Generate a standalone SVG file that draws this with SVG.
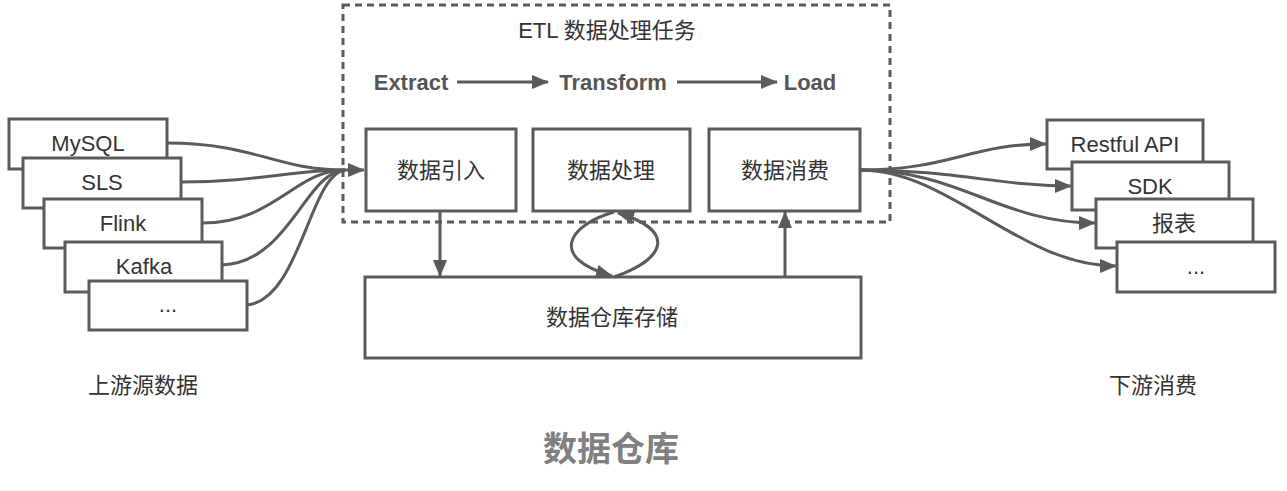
<svg xmlns="http://www.w3.org/2000/svg" width="1287" height="491" viewBox="0 0 1287 491">
<style>
.box{fill:#fff;stroke:#5b5b5b;stroke-width:3}
.t{font-family:"Liberation Sans","Noto Sans CJK SC",sans-serif;font-size:22px;fill:#333;text-anchor:middle;dominant-baseline:central}
.b{font-family:"Liberation Sans","Noto Sans CJK SC",sans-serif;font-size:22px;font-weight:bold;fill:#555;text-anchor:middle;dominant-baseline:central}
.c{fill:none;stroke:#5b5b5b;stroke-width:3}
.dash{fill:none;stroke:#5b5b5b;stroke-width:3;stroke-dasharray:7 5}
</style>
<defs>
<marker id="ah" markerUnits="userSpaceOnUse" markerWidth="17" markerHeight="14" refX="16" refY="7" orient="auto">
<path d="M0,0 L17,7 L0,14 z" fill="#5b5b5b"/>
</marker>
</defs>
<rect width="1287" height="491" fill="#fff"/>

<g id="etl-group">
<rect class="dash" x="343" y="5" width="547" height="217"/>
<text class="t" x="607" y="30">ETL 数据处理任务</text>
<text class="b" x="411" y="82">Extract</text>
<text class="b" x="613" y="82">Transform</text>
<text class="b" x="810" y="82">Load</text>
</g>

<g id="sources">
<g id="src-mysql"><rect class="box" x="9" y="119" width="158" height="50"/><text class="t" x="88" y="143">MySQL</text></g>
<g id="src-sls"><rect class="box" x="23" y="158" width="158" height="50"/><text class="t" x="102" y="182">SLS</text></g>
<g id="src-flink"><rect class="box" x="44" y="199" width="158" height="49"/><text class="t" x="123" y="223">Flink</text></g>
<g id="src-kafka"><rect class="box" x="65" y="242" width="157" height="50"/><text class="t" x="144" y="266">Kafka</text></g>
<g id="src-more"><rect class="box" x="89" y="281" width="158" height="49"/><text class="t" x="168" y="304">...</text></g>
</g>

<g id="n-ingest"><rect class="box" x="366" y="129" width="150" height="82"/><text class="t" x="441" y="170">数据引入</text></g>
<g id="n-process"><rect class="box" x="533" y="129" width="157" height="82"/><text class="t" x="611" y="170">数据处理</text></g>
<g id="n-consume"><rect class="box" x="709" y="129" width="151" height="82"/><text class="t" x="785" y="170">数据消费</text></g>
<g id="n-storage"><rect class="box" x="365" y="277" width="496" height="81"/><text class="t" x="612" y="317">数据仓库存储</text></g>

<g id="sinks">
<g id="dst-api"><rect class="box" x="1047" y="120" width="156" height="49"/><text class="t" x="1125" y="144">Restful API</text></g>
<g id="dst-sdk"><rect class="box" x="1072" y="162" width="157" height="48"/><text class="t" x="1150" y="186">SDK</text></g>
<g id="dst-report"><rect class="box" x="1096" y="199" width="157" height="49"/><text class="t" x="1174" y="223">报表</text></g>
<g id="dst-more"><rect class="box" x="1117" y="242" width="158" height="50"/><text class="t" x="1196" y="266">...</text></g>
</g>

<g id="labels">
<text class="t" x="143" y="385">上游源数据</text>
<text class="t" x="1153" y="385">下游消费</text>
<text x="611" y="449" font-family="'Liberation Sans','Noto Sans CJK SC',sans-serif" font-size="34" font-weight="bold" fill="#808080" text-anchor="middle" dominant-baseline="central">数据仓库</text>
</g>

<g id="connectors">
<line class="c" x1="457" y1="82" x2="548" y2="82" marker-end="url(#ah)"/>
<line class="c" x1="677" y1="82" x2="777" y2="82" marker-end="url(#ah)"/>

<path class="c" d="M167,143 C255,143 275,170 345,170"/>
<path class="c" d="M181,182 C260,182 290,170 345,170"/>
<path class="c" d="M202,223 C275,223 295,170 345,170"/>
<path class="c" d="M222,265 C290,262 305,172 345,170"/>
<path class="c" d="M247,305 C300,300 310,174 345,170"/>
<line class="c" x1="344" y1="170" x2="364" y2="170" marker-end="url(#ah)"/>

<path class="c" d="M860,170 C950,170 970,144 1046,144" marker-end="url(#ah)"/>
<path class="c" d="M860,170 C955,170 1000,186 1071,186" marker-end="url(#ah)"/>
<path class="c" d="M860,170 C960,170 1000,223 1095,223" marker-end="url(#ah)"/>
<path class="c" d="M860,170 C950,170 1020,266 1116,266" marker-end="url(#ah)"/>

<line class="c" x1="440" y1="211" x2="440" y2="276" marker-end="url(#ah)"/>
<line class="c" x1="785" y1="277" x2="785" y2="212" marker-end="url(#ah)"/>

<path class="c" d="M614,212 C568,225 548,258 612,276" marker-end="url(#ah)"/>
<path class="c" d="M614,277 C668,258 675,230 618,213" marker-end="url(#ah)"/>
</g>
</svg>
